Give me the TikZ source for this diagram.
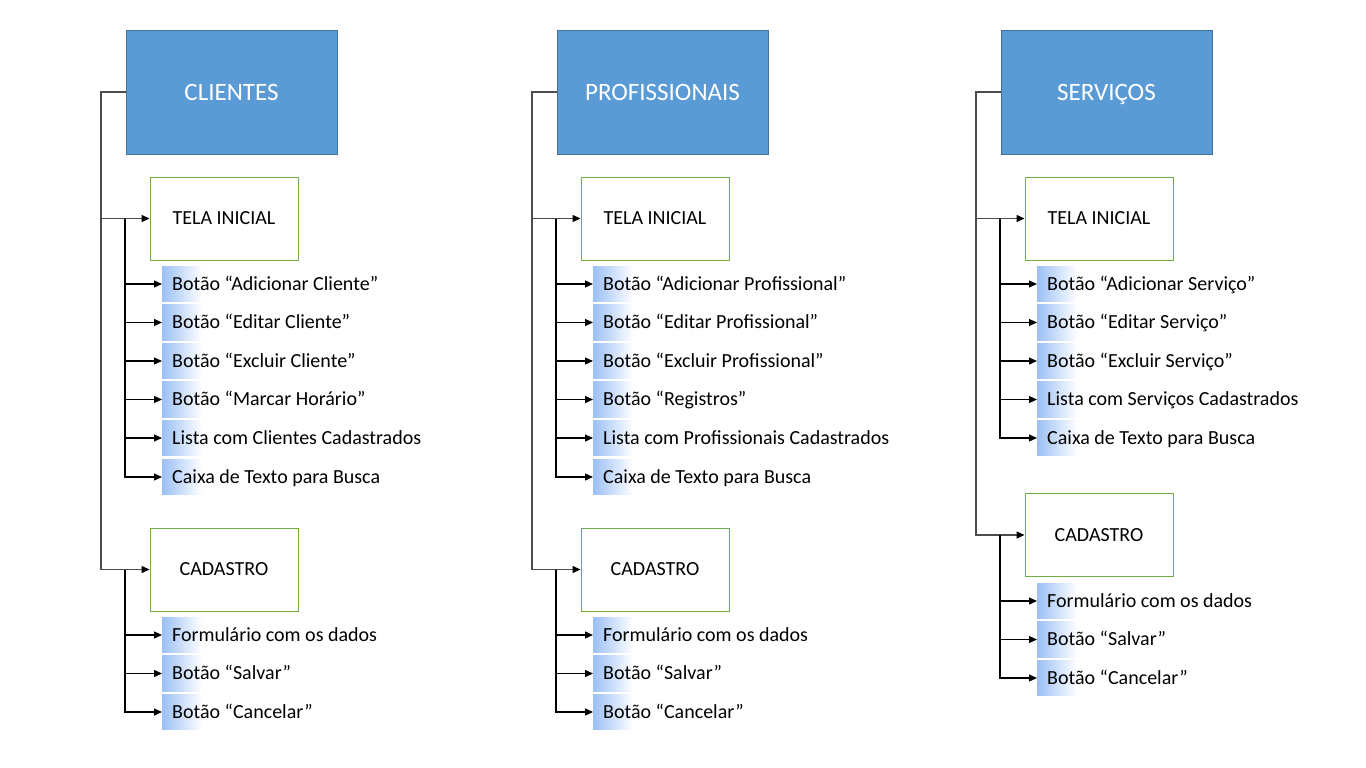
\documentclass[tikz,border=0pt]{standalone}
\usepackage{fontspec}
\setmainfont{Carlito}
\usetikzlibrary{arrows.meta,positioning,backgrounds}
\definecolor{hdblue}{RGB}{91,155,213}
\definecolor{hdedge}{RGB}{65,113,156}
\definecolor{scgreen}{RGB}{112,173,71}
\definecolor{itblue}{RGB}{155,192,245}
\tikzstyle{header} = [draw=hdedge, fill=hdblue, text=white, minimum width=211pt, minimum height=124pt, text height=20pt, text depth=3.9pt, font=\fontsize{25}{28}\selectfont]
\tikzstyle{screen} = [draw=scgreen, line width=0.9pt, fill=white, minimum width=148pt, minimum height=83pt, text height=16pt, text depth=3.1pt, font=\fontsize{20}{22}\selectfont]
\tikzstyle{item} = [anchor=west, inner xsep=10pt, minimum height=35pt, text height=16pt, text depth=3.1pt, font=\fontsize{20}{22}\selectfont]
\tikzstyle{fade} = [left color=itblue, right color=white]
\tikzstyle{trunk} = [line width=1.3pt, color=black!70, -{Triangle[length=8pt,width=7pt,color=black]}]
\tikzstyle{branch} = [line width=1.2pt, -{Triangle[length=8pt,width=7pt]}]

\begin{document}
\begin{tikzpicture}[x=1pt,y=-1pt]
\useasboundingbox (0,0) rectangle (1366,768);

% Clientes
\node[header] (cli) at (231.5,92) {CLIENTES};
\node[screen] (cliTela) at (224,218.5) {TELA INICIAL};
\node[screen] (cliCad) at (224,569.5) {CADASTRO};
\node[item] (cliT1) at (162,284) {Botão “Adicionar Cliente”};
\node[item] (cliT2) at (162,322.5) {Botão “Editar Cliente”};
\node[item] (cliT3) at (162,361) {Botão “Excluir Cliente”};
\node[item] (cliT4) at (162,399.5) {Botão “Marcar Horário”};
\node[item] (cliT5) at (162,438) {Lista com Clientes Cadastrados};
\node[item] (cliT6) at (162,477) {Caixa de Texto para Busca};
\node[item] (cliC1) at (162,635) {Formulário com os dados};
\node[item] (cliC2) at (162,673.5) {Botão “Salvar”};
\node[item] (cliC3) at (162,712) {Botão “Cancelar”};

\coordinate (cliL) at (101,92);
\coordinate (cliT) at (125,218.5);
\coordinate (cliC) at (125,569.5);
\draw[trunk] (cli.west) -- (cliL) |- (cliTela.west);
\draw[trunk] (cliL) |- (cliCad.west);
\foreach \i in {1,...,6} \draw[branch] (cliT) |- (cliT\i.west);
\foreach \i in {1,...,3} \draw[branch] (cliC) |- (cliC\i.west);

% Profissionais
\node[header] (pro) at (662.5,92) {PROFISSIONAIS};
\node[screen] (proTela) at (655,218.5) {TELA INICIAL};
\node[screen] (proCad) at (655,569.5) {CADASTRO};
\node[item] (proT1) at (593,284) {Botão “Adicionar Profissional”};
\node[item] (proT2) at (593,322.5) {Botão “Editar Profissional”};
\node[item] (proT3) at (593,361) {Botão “Excluir Profissional”};
\node[item] (proT4) at (593,399.5) {Botão “Registros”};
\node[item] (proT5) at (593,438) {Lista com Profissionais Cadastrados};
\node[item] (proT6) at (593,477) {Caixa de Texto para Busca};
\node[item] (proC1) at (593,635) {Formulário com os dados};
\node[item] (proC2) at (593,673.5) {Botão “Salvar”};
\node[item] (proC3) at (593,712) {Botão “Cancelar”};

\coordinate (proL) at (532,92);
\coordinate (proT) at (556,218.5);
\coordinate (proC) at (556,569.5);
\draw[trunk] (pro.west) -- (proL) |- (proTela.west);
\draw[trunk] (proL) |- (proCad.west);
\foreach \i in {1,...,6} \draw[branch] (proT) |- (proT\i.west);
\foreach \i in {1,...,3} \draw[branch] (proC) |- (proC\i.west);

% Serviços
\node[header] (ser) at (1106.5,92) {SERVIÇOS};
\node[screen] (serTela) at (1099,218.5) {TELA INICIAL};
\node[screen] (serCad) at (1099,535) {CADASTRO};
\node[item] (serT1) at (1037,284) {Botão “Adicionar Serviço”};
\node[item] (serT2) at (1037,322.5) {Botão “Editar Serviço”};
\node[item] (serT3) at (1037,361) {Botão “Excluir Serviço”};
\node[item] (serT4) at (1037,399.5) {Lista com Serviços Cadastrados};
\node[item] (serT5) at (1037,438) {Caixa de Texto para Busca};
\node[item] (serC1) at (1037,601) {Formulário com os dados};
\node[item] (serC2) at (1037,639.5) {Botão “Salvar”};
\node[item] (serC3) at (1037,678) {Botão “Cancelar”};

\coordinate (serL) at (976,92);
\coordinate (serT) at (1000,218.5);
\coordinate (serC) at (1000,535);
\draw[trunk] (ser.west) -- (serL) |- (serTela.west);
\draw[trunk] (serL) |- (serCad.west);
\foreach \i in {1,...,5} \draw[branch] (serT) |- (serT\i.west);
\foreach \i in {1,...,3} \draw[branch] (serC) |- (serC\i.west);

% Blue fades behind the items
\begin{scope}[on background layer]
\foreach \n in {cliT1,cliT2,cliT3,cliT4,cliT5,cliT6,cliC1,cliC2,cliC3,proT1,proT2,proT3,proT4,proT5,proT6,proC1,proC2,proC3,serT1,serT2,serT3,serT4,serT5,serC1,serC2,serC3}
  \shade[fade] (\n.north west) rectangle ([xshift=40pt]\n.south west);
\end{scope}
\end{tikzpicture}
\end{document}
